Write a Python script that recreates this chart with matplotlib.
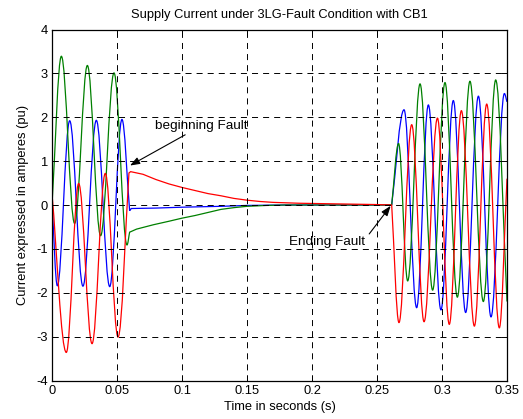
import matplotlib
matplotlib.use("Agg")
import matplotlib.pyplot as plt
from matplotlib.path import Path
from matplotlib.patches import PathPatch

# Values (time in s, current in pu).
# "pre" / "post" lists hold the start point followed by the peaks and troughs,
# "decay" lists hold the points of the slow fault transient.

blue_pre_t = [0.0, 0.0041, 0.0136, 0.0238, 0.0341, 0.0444, 0.0538]
blue_pre_v = [0.05, -1.84, 1.92, -1.85, 1.93, -1.86, 1.95]
blue_decay_t = [0.0597, 0.061, 0.08, 0.10, 0.13, 0.15, 0.18, 0.25]
blue_decay_v = [-0.13, -0.08, -0.07, -0.05, -0.03, -0.01, 0.0, 0.0]
blue_post_t = [0.2613, 0.2708, 0.2805, 0.2895, 0.2992, 0.3087, 0.3182,
               0.3280, 0.3377, 0.3480, 0.3500]
blue_post_v = [0.0, 2.17, -2.34, 2.28, -2.39, 2.38, -2.45, 2.48, -2.55, 2.54, 2.35]

green_pre_t = [0.0, 0.0072, 0.0174, 0.0272, 0.0374, 0.0477, 0.0577]
green_pre_v = [0.0, 3.39, -0.42, 3.18, -0.70, 3.01, -0.91]
green_decay_t = [0.0597, 0.065, 0.078, 0.09, 0.10, 0.11, 0.12, 0.13, 0.14,
                 0.15, 0.165, 0.18, 0.25]
green_decay_v = [-0.62, -0.55, -0.45, -0.37, -0.30, -0.24, -0.17, -0.10, -0.06,
                 -0.03, -0.01, 0.0, 0.0]
green_post_t = [0.2613, 0.2666, 0.2736, 0.2831, 0.2928, 0.3023, 0.3118,
                0.3215, 0.3318, 0.3413, 0.3500]
green_post_v = [0.0, 1.40, -1.73, 2.76, -1.94, 2.79, -2.10, 2.82, -2.20, 2.85, -2.20]

red_pre_t = [0.0, 0.0110, 0.0205, 0.0308, 0.0410, 0.0508]
red_pre_v = [0.25, -3.36, 0.49, -3.16, 0.72, -3.01]
red_decay_t = [0.0592, 0.0605, 0.07, 0.08, 0.09, 0.10, 0.11, 0.12, 0.13, 0.14,
               0.15, 0.16, 0.17, 0.19, 0.21, 0.23, 0.25]
red_decay_v = [0.73, 0.76, 0.70, 0.58, 0.48, 0.40, 0.33, 0.26, 0.21, 0.15,
               0.11, 0.08, 0.06, 0.04, 0.03, 0.02, 0.01]
red_post_t = [0.2613, 0.2669, 0.2767, 0.2862, 0.2965, 0.3056, 0.3149,
              0.3249, 0.3344, 0.3441, 0.3500]
red_post_v = [0.0, -2.68, 1.83, -2.66, 1.98, -2.72, 2.15, -2.76, 2.30, -2.80, 0.60]

x_ticks = [0, 0.05, 0.1, 0.15, 0.2, 0.25, 0.3, 0.35]
x_tick_labels = ["0", "0.05", "0.1", "0.15", "0.2", "0.25", "0.3", "0.35"]
y_ticks = [-4, -3, -2, -1, 0, 1, 2, 3, 4]
y_tick_labels = ["-4", "-3", "-2", "-1", "0", "1", "2", "3", "4"]

FONT = "Liberation Sans"
FS = 9.3
FS_NOTE = 9.7
K_SINE = 0.364  # bezier handle length that makes a half cycle look sinusoidal


def wave_path(ts, vs, smooth):
    """Cubic bezier path through the nodes; smooth nodes get flat tangents."""
    verts = [(ts[0], vs[0])]
    codes = [Path.MOVETO]
    for i in range(len(ts) - 1):
        t0, v0, t1, v1 = ts[i], vs[i], ts[i + 1], vs[i + 1]
        d = t1 - t0
        c1 = (t0 + K_SINE * d, v0) if smooth[i] else (t0 + d / 3, v0 + (v1 - v0) / 3)
        c2 = (t1 - K_SINE * d, v1) if smooth[i + 1] else (t1 - d / 3, v1 - (v1 - v0) / 3)
        verts += [c1, c2, (t1, v1)]
        codes += [Path.CURVE4] * 3
    return Path(verts, codes)


def phase_path(pre_t, pre_v, dec_t, dec_v, post_t, post_v):
    ts = pre_t + dec_t + post_t
    vs = pre_v + dec_v + post_v
    smooth = ([False] + [True] * (len(pre_t) - 1) + [False] * len(dec_t)
              + [False] + [True] * (len(post_t) - 2) + [False])
    return wave_path(ts, vs, smooth)


fig = plt.figure(figsize=(5.23, 4.19), dpi=100)
ax = fig.add_axes([52 / 523, 38.5 / 419, 455 / 523, 351 / 419])

phases = [
    (blue_pre_t, blue_pre_v, blue_decay_t, blue_decay_v, blue_post_t, blue_post_v, "#0000FF"),
    (green_pre_t, green_pre_v, green_decay_t, green_decay_v, green_post_t, green_post_v, "#008000"),
    (red_pre_t, red_pre_v, red_decay_t, red_decay_v, red_post_t, red_post_v, "#FF0000"),
]
for pre_t, pre_v, dec_t, dec_v, post_t, post_v, color in phases:
    path = phase_path(pre_t, pre_v, dec_t, dec_v, post_t, post_v)
    ax.add_patch(PathPatch(path, fill=False, edgecolor=color, lw=0.9))

ax.set_xlim(0, 0.35)
ax.set_ylim(-4, 4)
ax.set_xticks(x_ticks)
ax.set_xticklabels(x_tick_labels, fontname=FONT, fontsize=FS)
ax.set_yticks(y_ticks)
ax.set_yticklabels(y_tick_labels, fontname=FONT, fontsize=FS)
ax.tick_params(direction="in", length=4, width=0.7, top=True, right=True, pad=3)
ax.grid(True, color="black", linestyle=(0, (6.2, 5.2)), linewidth=0.7)
for s in ax.spines.values():
    s.set_linewidth(0.9)

ax.set_title("Supply Current under 3LG-Fault Condition with CB1",
             fontname=FONT, fontsize=FS, pad=8)
ax.set_xlabel("Time in seconds (s)", fontname=FONT, fontsize=FS, labelpad=3)
ax.set_ylabel("Current expressed in amperes (pu)", fontname=FONT, fontsize=FS, labelpad=5)

arrow = dict(arrowstyle="-|>,head_length=0.6,head_width=0.22", color="black", lw=0.8,
             shrinkA=0, shrinkB=0)
ax.annotate("beginning Fault", xy=(0.0600, 0.90), xytext=(0.0790, 1.80),
            ha="left", va="center", fontname=FONT, fontsize=FS_NOTE, arrowprops=arrow)
ax.annotate("", xy=(0.2605, -0.02), xytext=(0.2440, -0.66), arrowprops=arrow)
ax.text(0.1825, -0.84, "Ending Fault", ha="left", va="center",
        fontname=FONT, fontsize=FS_NOTE)

fig.savefig("out.png", dpi=100)
